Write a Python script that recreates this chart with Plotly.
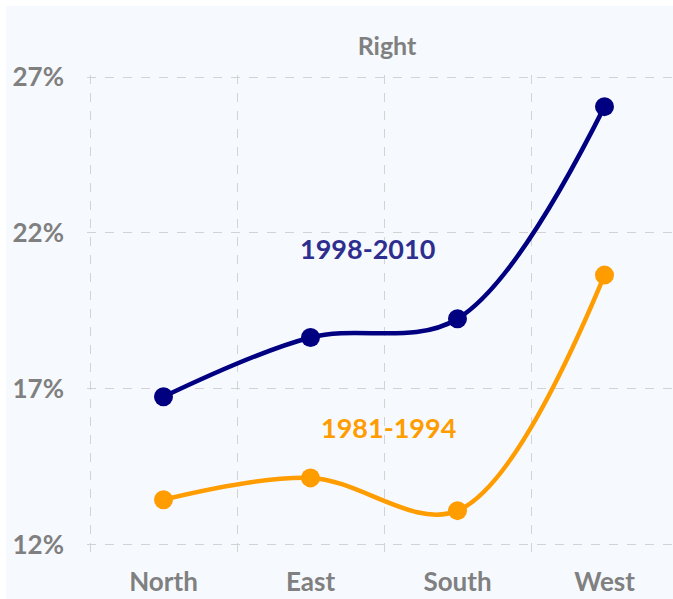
import plotly.graph_objects as go

regions = ["North", "East", "South", "West"]
series_names = ["1998-2010", "1981-1994"]
values_1998_2010 = [16.75, 18.65, 19.25, 26.05]
values_1981_1994 = [13.45, 14.15, 13.1, 20.65]
y_ticks = [12, 17, 22, 27]
y_tick_labels = ["12%", "17%", "22%", "27%"]

NAVY = "#000080"
NAVY_TEXT = "#2e2e8f"
ORANGE = "#ff9c00"
GRAY = "#808080"
BG = "#f6faff"
FONT = "Lato"

W, H = 673, 599
ML, MR, MT, MB = 87, 0, 75, 45
plot_w = W - ML - MR
plot_h = H - MT - MB

fig = go.Figure()
for name, vals, col in [(series_names[0], values_1998_2010, NAVY),
                        (series_names[1], values_1981_1994, ORANGE)]:
    fig.add_trace(go.Scatter(
        x=regions, y=vals, name=name, mode="lines+markers",
        line=dict(color=col, width=4.5, shape="spline", smoothing=1.0),
        marker=dict(color=col, size=19),
        showlegend=False, cliponaxis=False,
    ))

fig.add_annotation(x=1.39, y=21.5, text="<b>1998-2010</b>", showarrow=False,
                   font=dict(family=FONT, size=27, color=NAVY_TEXT))
fig.add_annotation(x=1.53, y=15.75, text="<b>1981-1994</b>", showarrow=False,
                   font=dict(family=FONT, size=27, color=ORANGE))

# white page margin strips (top & left)
fig.add_shape(type="rect", xref="paper", yref="paper",
              x0=-ML / plot_w, x1=(W - ML) / plot_w,
              y0=1 + (MT - 6) / plot_h, y1=1 + MT / plot_h,
              fillcolor="white", line_width=0, layer="below")
fig.add_shape(type="rect", xref="paper", yref="paper",
              x0=-ML / plot_w, x1=(6 - ML) / plot_w,
              y0=-MB / plot_h, y1=1 + MT / plot_h,
              fillcolor="white", line_width=0, layer="below")

fig.update_layout(
    width=W, height=H,
    margin=dict(l=ML, r=MR, t=MT, b=MB, pad=0, autoexpand=False),
    paper_bgcolor=BG, plot_bgcolor=BG,
    title=dict(text="<b>Right</b>", x=387 / W, xanchor="center", xref="container",
               y=1 - 46 / H, yanchor="middle",
               font=dict(family=FONT, size=25, color=GRAY)),
    font=dict(family=FONT, color=GRAY),
)
fig.update_xaxes(
    type="category", range=[-0.5204, 3.466], tickson="boundaries",
    showgrid=True, gridcolor="#d3d3d3", griddash="dash", gridwidth=1,
    ticks="", showline=False, zeroline=False, automargin=False,
    tickfont=dict(family=FONT, size=26, color=GRAY),
    ticklabelstandoff=10,
    tickvals=regions, ticktext=[f"<b>{r}</b>" for r in regions],
)
fig.update_yaxes(
    range=[11.71, 27.064], tickvals=y_ticks,
    ticktext=[f"<b>{t}</b>" for t in y_tick_labels],
    showgrid=True, gridcolor="#d3d3d3", griddash="dash", gridwidth=1,
    ticks="", showline=False, zeroline=False, automargin=False,
    tickfont=dict(family=FONT, size=26, color=GRAY),
    ticklabelstandoff=22,
)

fig.write_html("out.html", config={"displayModeBar": False},
               post_script="document.body.style.margin='0';document.body.style.overflow='hidden';")
